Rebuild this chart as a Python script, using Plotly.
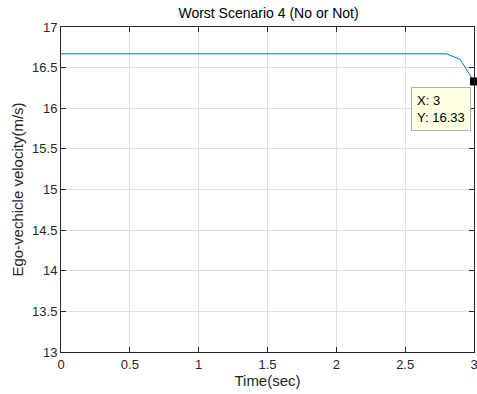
import plotly.graph_objects as go

time_sec = [0, 0.5, 1.0, 1.5, 2.0, 2.5, 2.8, 2.9, 3.0]
velocity = [16.67, 16.67, 16.67, 16.67, 16.67, 16.67, 16.67, 16.6, 16.33]
tip_x = 3
tip_y = 16.33

FONT = "Liberation Sans, Arial"

fig = go.Figure()
fig.add_trace(go.Scatter(x=time_sec, y=velocity, mode="lines",
                         line=dict(color="#0072BD", width=1), showlegend=False,
                         hoverinfo="skip"))
fig.add_trace(go.Scatter(x=[tip_x], y=[tip_y], mode="markers",
                         marker=dict(symbol="square", color="black", size=8),
                         showlegend=False, cliponaxis=False, hoverinfo="skip"))

fig.add_annotation(x=tip_x, y=tip_y, xref="x", yref="y",
                   text=f"X: {tip_x}<br>Y: {tip_y:.2f}", showarrow=True,
                   arrowcolor="rgba(0,0,0,0)", ax=-33, ay=28,
                   xanchor="center", yanchor="middle", align="left",
                   bgcolor="#FFFFE1", bordercolor="#B0B0B0", borderwidth=1,
                   borderpad=5, font=dict(family=FONT, size=13, color="black"))

axis_common = dict(showline=True, linecolor="#262626", linewidth=1, mirror="ticks",
                   ticks="inside", ticklen=5, tickcolor="#262626",
                   showgrid=True, gridcolor="#DFDFDF", gridwidth=1, zeroline=False,
                   automargin=False, ticklabeloverflow="allow",
                   tickfont=dict(family=FONT, size=13, color="#262626"))

fig.update_xaxes(range=[0, 3], tickvals=[0, 0.5, 1, 1.5, 2, 2.5, 3],
                 ticktext=["0", "0.5", "1", "1.5", "2", "2.5", "3"],
                 title=dict(text="Time(sec)", font=dict(family=FONT, size=15, color="#262626"), standoff=4),
                 **axis_common)
fig.update_yaxes(range=[13, 17], tickvals=[13, 13.5, 14, 14.5, 15, 15.5, 16, 16.5, 17],
                 ticktext=["13", "13.5", "14", "14.5", "15", "15.5", "16", "16.5", "17"],
                 title=dict(text="Ego-vechicle velocity(m/s)", font=dict(family=FONT, size=15, color="#262626"), standoff=4),
                 **axis_common)

fig.update_layout(width=477, height=394, paper_bgcolor="white", plot_bgcolor="white",
                  margin=dict(l=61, r=3, t=27, b=42),
                  title=dict(text="Worst Scenario 4 (No or Not)", x=0.563, xanchor="center",
                             y=0.978, yanchor="top",
                             font=dict(family=FONT, size=14, color="black")))

fig.write_html("out.html", config={"displayModeBar": False},
               post_script="document.body.style.margin='0';document.body.style.overflow='hidden';")
